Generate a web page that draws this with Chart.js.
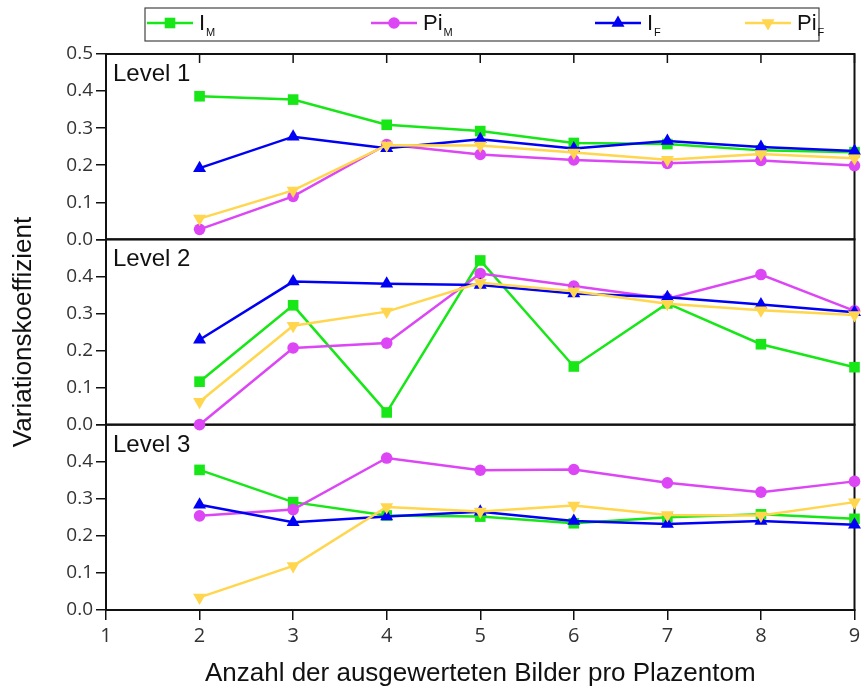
<!DOCTYPE html>
<html>
<head>
<meta charset="utf-8">
<script src="https://cdn.jsdelivr.net/npm/chart.js@4.4.0/dist/chart.umd.min.js"></script>
<style>
  html, body { margin: 0; padding: 0; background: #fff; }
  canvas { display: block; }
</style>
</head>
<body>
<canvas id="chart" width="862" height="691"></canvas>
<script>
// Number of evaluated images per placentome
const xValues = [2, 3, 4, 5, 6, 7, 8, 9];

// Coefficient of variation, Level 1
const level1IM  = [0.386, 0.377, 0.309, 0.292, 0.260, 0.257, 0.240, 0.235];
const level1PiM = [0.027, 0.116, 0.256, 0.229, 0.214, 0.205, 0.213, 0.199];
const level1IF  = [0.192, 0.277, 0.246, 0.270, 0.245, 0.265, 0.249, 0.238];
const level1PiF = [0.056, 0.132, 0.254, 0.253, 0.234, 0.215, 0.230, 0.219];

// Level 2
const level2IM  = [0.116, 0.322, 0.033, 0.443, 0.157, 0.327, 0.217, 0.155];
const level2PiM = [0.000, 0.207, 0.220, 0.408, 0.374, 0.340, 0.405, 0.307];
const level2IF  = [0.229, 0.386, 0.380, 0.377, 0.354, 0.344, 0.324, 0.303];
const level2PiF = [0.062, 0.267, 0.305, 0.383, 0.360, 0.326, 0.309, 0.296];

// Level 3
const level3IM  = [0.378, 0.291, 0.255, 0.252, 0.234, 0.250, 0.258, 0.246];
const level3PiM = [0.254, 0.271, 0.410, 0.377, 0.379, 0.343, 0.318, 0.347];
const level3IF  = [0.284, 0.237, 0.252, 0.265, 0.240, 0.232, 0.240, 0.230];
const level3PiF = [0.034, 0.119, 0.278, 0.266, 0.282, 0.256, 0.255, 0.291];

const seriesMain = ['I', 'Pi', 'I', 'Pi'];
const seriesSub  = ['M', 'M', 'F', 'F'];
const levelNames = ['Level 1', 'Level 2', 'Level 3'];
const xAxisTitle = 'Anzahl der ausgewerteten Bilder pro Plazentom';
const yAxisTitle = 'Variationskoeffizient';

const levels = [
  [level1IM, level1PiM, level1IF, level1PiF],
  [level2IM, level2PiM, level2IF, level2PiF],
  [level3IM, level3PiM, level3IF, level3PiF]
];

const seriesStyles = [
  { color: '#17E617', pointStyle: 'rect',     radius: 7.5, rotation: 0 },
  { color: '#DC46F5', pointStyle: 'circle',   radius: 5.8, rotation: 0 },
  { color: '#0000F5', pointStyle: 'triangle', radius: 7.5, rotation: 0 },
  { color: '#FFD64D', pointStyle: 'triangle', radius: 7.5, rotation: 180 }
];

const SANS = '"Liberation Sans", Arial, sans-serif';
const TICK_FONT = { family: '"Open Sans", sans-serif', size: 19 };
const INK = '#111';

const datasets = [];
levels.forEach((series, li) => {
  series.forEach((vals, si) => {
    const st = seriesStyles[si];
    datasets.push({
      label: seriesMain[si] + seriesSub[si] + ' ' + levelNames[li],
      data: vals.map((v, i) => ({ x: xValues[i], y: v })),
      yAxisID: 'y' + (li + 1),
      borderColor: st.color,
      backgroundColor: st.color,
      borderWidth: 2.5,
      pointStyle: st.pointStyle,
      pointRadius: st.radius,
      pointHoverRadius: st.radius,
      pointRotation: st.rotation,
      pointBorderWidth: 0,
      order: 4 - si,
      clip: false,
      tension: 0
    });
  });
});

function panelScale(li) {
  return {
    type: 'linear',
    position: 'left',
    stack: 'levels',
    stackWeight: 1,
    weight: 3 - li,
    min: 0,
    max: 0.5,
    ticks: {
      stepSize: 0.1,
      autoSkip: false,
      padding: 3,
      color: '#333',
      font: TICK_FONT,
      callback: (v) => (li > 0 && v > 0.45) ? '' : Number(v).toFixed(1)
    },
    grid: { drawOnChartArea: false, tickLength: 10, color: INK, lineWidth: 1.5 },
    border: { display: true, color: INK, width: 2 },
    title: li === 1
      ? { display: true, text: yAxisTitle, color: INK, font: { family: SANS, size: 26 }, padding: { top: 8, bottom: 0 } }
      : { display: false },
    afterFit: (s) => { s.width = 106; }
  };
}

// Frames of the three panels, inward ticks along the top edge, panel captions
const panelPlugin = {
  id: 'panelFrames',
  beforeDatasetsDraw(chart) {
    const { ctx, chartArea, scales } = chart;
    const ids = ['y1', 'y2', 'y3'];
    ctx.save();
    ctx.strokeStyle = INK;
    ctx.lineWidth = 2;
    ids.forEach((id) => {
      const s = scales[id];
      ctx.strokeRect(chartArea.left, s.top, chartArea.right - chartArea.left, s.bottom - s.top);
    });
    const xs = scales.x;
    const top = scales.y1.top;
    ctx.lineWidth = 1.5;
    xs.ticks.forEach((t) => {
      const px = xs.getPixelForValue(t.value);
      ctx.beginPath();
      ctx.moveTo(px, top);
      ctx.lineTo(px, top + 9);
      ctx.stroke();
    });
    ctx.fillStyle = INK;
    ctx.font = '24px ' + SANS;
    ctx.textBaseline = 'alphabetic';
    ctx.textAlign = 'left';
    ids.forEach((id, i) => {
      ctx.fillText(levelNames[i], chartArea.left + 7, scales[id].top + 27);
    });
    ctx.restore();
  }
};

// Legend row with line + marker symbols and subscripted names
const legendPlugin = {
  id: 'seriesLegend',
  afterDraw(chart, args, opts) {
    const ctx = chart.ctx;
    ctx.save();
    ctx.strokeStyle = '#444';
    ctx.lineWidth = 1.2;
    ctx.strokeRect(opts.box.x, opts.box.y, opts.box.w, opts.box.h);
    seriesStyles.forEach((st, i) => {
      const x0 = opts.slots[i];
      const y = opts.lineY;
      ctx.strokeStyle = st.color;
      ctx.lineWidth = 2.5;
      ctx.beginPath();
      ctx.moveTo(x0, y);
      ctx.lineTo(x0 + opts.lineLength, y);
      ctx.stroke();
      ctx.fillStyle = st.color;
      Chart.helpers.drawPoint(ctx, {
        pointStyle: st.pointStyle, radius: st.radius, rotation: st.rotation, borderWidth: 0
      }, x0 + opts.lineLength / 2, y);
      ctx.fillStyle = INK;
      ctx.textAlign = 'left';
      ctx.textBaseline = 'alphabetic';
      ctx.font = '22px ' + SANS;
      const tx = x0 + opts.lineLength + 6;
      ctx.fillText(seriesMain[i], tx, opts.textY);
      const w = ctx.measureText(seriesMain[i]).width;
      ctx.font = '11px ' + SANS;
      ctx.fillText(seriesSub[i], tx + w + 1, opts.textY + 6);
    });
    ctx.restore();
  }
};

new Chart(document.getElementById('chart'), {
  type: 'line',
  data: { datasets },
  plugins: [panelPlugin, legendPlugin],
  options: {
    responsive: false,
    animation: false,
    events: [],
    layout: { padding: { top: 54, right: 5, bottom: 0, left: 0 } },
    plugins: {
      legend: { display: false },
      tooltip: { enabled: false },
      seriesLegend: {
        box: { x: 145, y: 8, w: 674, h: 33 },
        slots: [147, 371, 595, 745],
        lineLength: 46,
        lineY: 23,
        textY: 30
      }
    },
    scales: {
      x: {
        type: 'linear',
        min: 1,
        max: 9,
        ticks: { stepSize: 1, autoSkip: false, padding: 4, color: '#333', font: { family: '"Open Sans", sans-serif', size: 20 } },
        grid: { drawOnChartArea: false, tickLength: 10, color: INK, lineWidth: 1.5 },
        border: { display: true, color: INK, width: 2 },
        title: { display: true, text: xAxisTitle, color: INK, font: { family: SANS, size: 26 }, padding: { top: 0, bottom: 2 } },
        afterFit: (s) => { s.height = 81; s.paddingLeft = 0; s.paddingRight = 0; }
      },
      y1: panelScale(0),
      y2: panelScale(1),
      y3: panelScale(2)
    }
  }
});
</script>
</body>
</html>
